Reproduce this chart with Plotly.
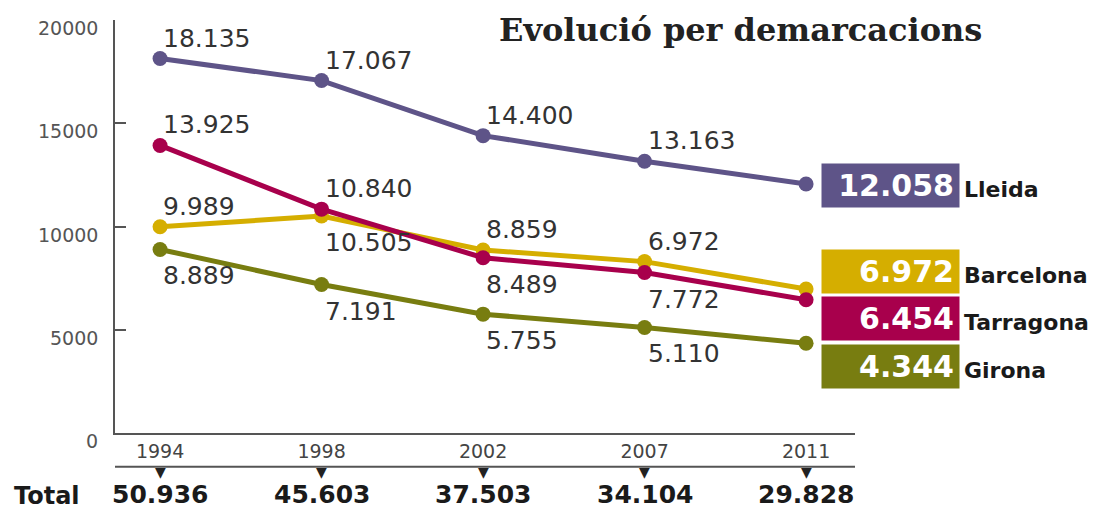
import plotly.graph_objects as go

# Data
years = ['1994', '1998', '2002', '2007', '2011']
totals = ['50.936', '45.603', '37.503', '34.104', '29.828']

lleida = [18135, 17067, 14400, 13163, 12058]
barcelona = [9989, 10505, 8859, 8300, 6972]
tarragona = [13925, 10840, 8489, 7772, 6454]
girona = [8889, 7191, 5755, 5110, 4344]

# point labels as printed in the source (2007 Barcelona repeats the 2011 figure)
lleida_lbl = ['18.135', '17.067', '14.400', '13.163', '']
barcelona_lbl = ['9.989', '10.505', '8.859', '6.972', '']
tarragona_lbl = ['13.925', '10.840', '8.489', '7.772', '']
girona_lbl = ['8.889', '7.191', '5.755', '5.110', '']

names = ['Lleida', 'Barcelona', 'Tarragona', 'Girona']
end_lbl = ['12.058', '6.972', '6.454', '4.344']
y_ticks = [0, 5000, 10000, 15000, 20000]

# Style
colors = {
    'Lleida': '#5E5488',
    'Barcelona': '#D5AE00',
    'Tarragona': '#A8004C',
    'Girona': '#787D10',
}
sans = 'DejaVu Sans'

# label placement: 'a' above the point, 'b' below
series = [
    ('Girona', girona, girona_lbl, 'bbbbb'),
    ('Barcelona', barcelona, barcelona_lbl, 'abaaa'),
    ('Tarragona', tarragona, tarragona_lbl, 'aabbb'),
    ('Lleida', lleida, lleida_lbl, 'aaaaa'),
]

fig = go.Figure()
annotations = []

for name, vals, lbls, pos in series:
    fig.add_trace(go.Scatter(
        x=years, y=vals, mode='lines+markers',
        line=dict(color=colors[name], width=5),
        marker=dict(color=colors[name], size=15),
        cliponaxis=False, showlegend=False, name=name,
    ))
    for i, (v, t, p) in enumerate(zip(vals, lbls, pos)):
        if not t:
            continue
        annotations.append(dict(
            x=i, y=v, xref='x', yref='y', text=t, showarrow=False,
            xanchor='left', yanchor='bottom' if p == 'a' else 'top',
            xshift=1, yshift=4 if p == 'a' else -10,
            font=dict(family=sans, size=25, color='#333333')))

# dotted drop lines from the highest point of each year
shapes = []
for i, yr in enumerate(years):
    top = max(lleida[i], barcelona[i], tarragona[i], girona[i])
    shapes.append(dict(type='line', xref='x', yref='y', x0=yr, x1=yr, y0=0, y1=top,
                       line=dict(color='#777777', width=2, dash='dot'), layer='below'))

# second rule under the year labels
shapes.append(dict(type='line', xref='paper', yref='paper', x0=0, x1=1,
                   y0=-0.082, y1=-0.082, line=dict(color='#555555', width=2)))

# y tick labels (sit a little below their ticks in the source)
for v in y_ticks:
    annotations.append(dict(x=0, y=v, xref='paper', yref='y', text=str(v), showarrow=False,
                            xanchor='right', yanchor='middle', xshift=-15, yshift=-8,
                            font=dict(family=sans, size=19, color='#555555')))

for i, tot in enumerate(totals):
    annotations.append(dict(x=i, y=-0.095, xref='x', yref='paper', text='▼',
                            showarrow=False, yanchor='middle',
                            font=dict(family=sans, size=14, color='#222222')))
    annotations.append(dict(x=i, y=-0.148, xref='x', yref='paper', text='<b>%s</b>' % tot,
                            showarrow=False, yanchor='middle', xanchor='center',
                            font=dict(family=sans, size=25, color='#1a1a1a')))
annotations.append(dict(x=-0.139, y=-0.152, xref='paper', yref='paper', text='<b>Total</b>',
                        xanchor='left', yanchor='middle', showarrow=False,
                        font=dict(family=sans, size=24, color='#1a1a1a')))

# end boxes
box_y = [0.600, 0.390, 0.278, 0.161]
for name, lbl, by in zip(names, end_lbl, box_y):
    annotations.append(dict(x=0.954, y=by, xref='paper', yref='paper', text='<b>%s</b>' % lbl,
                            xanchor='left', yanchor='middle', showarrow=False,
                            width=127, height=33, align='right', borderpad=5,
                            bgcolor=colors[name],
                            font=dict(family=sans, size=30, color='white')))
    annotations.append(dict(x=1.145, y=by, yshift=-4, xref='paper', yref='paper',
                            text='<b>%s</b>' % name, xanchor='left', yanchor='middle',
                            showarrow=False, font=dict(family=sans, size=22, color='#1a1a1a')))

# title
annotations.append(dict(x=(497 - 115) / 740, y=1.027, xref='paper', yref='paper',
                        text='<b>Evolució per demarcacions</b>', xanchor='left', yanchor='top',
                        showarrow=False,
                        font=dict(family='DejaVu Serif', size=32, color='#222222')))

# page body keeps an 8px default margin, so size the figure to fit inside it
fig.update_layout(
    width=1090, height=502,
    margin=dict(l=107, r=243, t=12, b=77),
    paper_bgcolor='white', plot_bgcolor='white',
    shapes=shapes, annotations=annotations,
    xaxis=dict(
        type='category', range=[-0.279, 4.303],
        showline=True, linecolor='#555555', linewidth=2,
        showgrid=False, zeroline=False, ticks='',
        tickfont=dict(family=sans, size=19, color='#444444'),
    ),
    yaxis=dict(
        range=[0, 20000], tickvals=y_ticks, showticklabels=False,
        showline=True, linecolor='#555555', linewidth=2,
        ticks='inside', ticklen=11, tickwidth=2, tickcolor='#555555',
        showgrid=False, zeroline=False,
    ),
)

fig.write_html('out.html')
